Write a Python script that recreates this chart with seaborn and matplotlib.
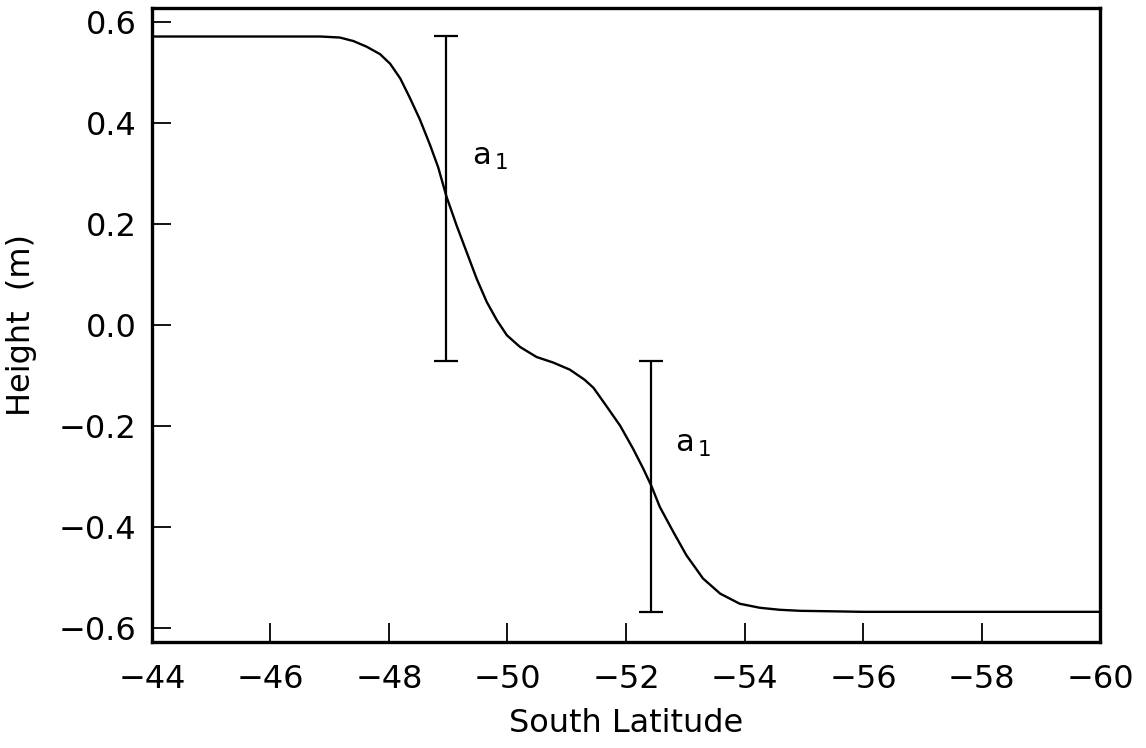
import matplotlib
matplotlib.use("Agg")
import matplotlib.pyplot as plt
import seaborn as sns
import pandas as pd

# Data
lat = [-44.0, -45.0, -46.0, -46.84, -47.17, -47.40, -47.62, -47.85, -48.02, -48.19,
       -48.35, -48.52, -48.69, -48.83, -48.97, -49.14, -49.31, -49.48, -49.65,
       -49.82, -49.99, -50.21, -50.49, -50.77, -51.05, -51.30, -51.45, -51.62,
       -51.90, -52.12, -52.29, -52.43, -52.57, -52.80, -53.02, -53.30, -53.59,
       -53.92, -54.26, -54.60, -54.94, -55.5, -56.0, -58.0, -60.0]
height = [0.572, 0.572, 0.572, 0.572, 0.570, 0.563, 0.552, 0.537, 0.518, 0.489,
          0.451, 0.408, 0.358, 0.313, 0.255, 0.198, 0.145, 0.092, 0.046,
          0.010, -0.020, -0.043, -0.063, -0.074, -0.088, -0.108, -0.124, -0.152,
          -0.199, -0.245, -0.284, -0.319, -0.360, -0.410, -0.456, -0.502, -0.532,
          -0.552, -0.560, -0.564, -0.566, -0.567, -0.568, -0.568, -0.568]

bar_x = [-48.97, -52.42]
bar_low = [-0.071, -0.568]
bar_high = [0.573, -0.071]
bar_labels = [r"$\mathregular{a}_{\,1}$", r"$\mathregular{a}_{\,1}$"]
label_x = [-49.40, -52.83]
label_y = [0.318, -0.251]

x_ticks = [-44, -46, -48, -50, -52, -54, -56, -58, -60]
y_ticks = [-0.6, -0.4, -0.2, 0.0, 0.2, 0.4, 0.6]

sns.set_theme(style="white")
plt.rcParams['font.family'] = ['DejaVu Sans']
plt.rcParams['mathtext.default'] = 'regular'

fig, ax = plt.subplots(figsize=(11.46, 7.48), dpi=100)
fig.subplots_adjust(left=0.1326, right=0.9599, top=0.9893, bottom=0.1417)

df = pd.DataFrame({"lat": lat, "height": height})
sns.lineplot(data=df, x="lat", y="height", ax=ax, color="black", linewidth=1.7)

mid = [(lo + hi) / 2 for lo, hi in zip(bar_low, bar_high)]
err = [[m - lo for m, lo in zip(mid, bar_low)], [hi - m for hi, m in zip(bar_high, mid)]]
ax.errorbar(bar_x, mid, yerr=err, fmt="none", ecolor="black", elinewidth=1.6,
            capsize=8.5, capthick=1.6)

for lx, ly, t in zip(label_x, label_y, bar_labels):
    ax.text(lx, ly, t, fontsize=22, ha="left", va="baseline", color="black")

ax.set_xlim(-44, -60)
ax.set_ylim(-0.6278, 0.6285)
ax.set_xticks(x_ticks)
ax.set_xticklabels([f"\u2212{abs(v)}" for v in x_ticks])
ax.set_yticks(y_ticks)
ax.set_yticklabels([("\u2212" if v < 0 else "") + f"{abs(v):.1f}" for v in y_ticks])

ax.tick_params(axis="both", which="major", direction="in", length=14, width=1.3,
               labelsize=23, colors="black", bottom=True, left=True, top=False, right=False)
ax.tick_params(axis="y", pad=11)
ax.tick_params(axis="x", pad=16)

for s in ax.spines.values():
    s.set_visible(True)
    s.set_color("black")
    s.set_linewidth(2.4)

ax.set_xlabel("South Latitude", fontsize=23, labelpad=9, color="black")
ax.set_ylabel("Height  (m)", fontsize=23, labelpad=16, color="black")

fig.savefig("out.png", dpi=100)
